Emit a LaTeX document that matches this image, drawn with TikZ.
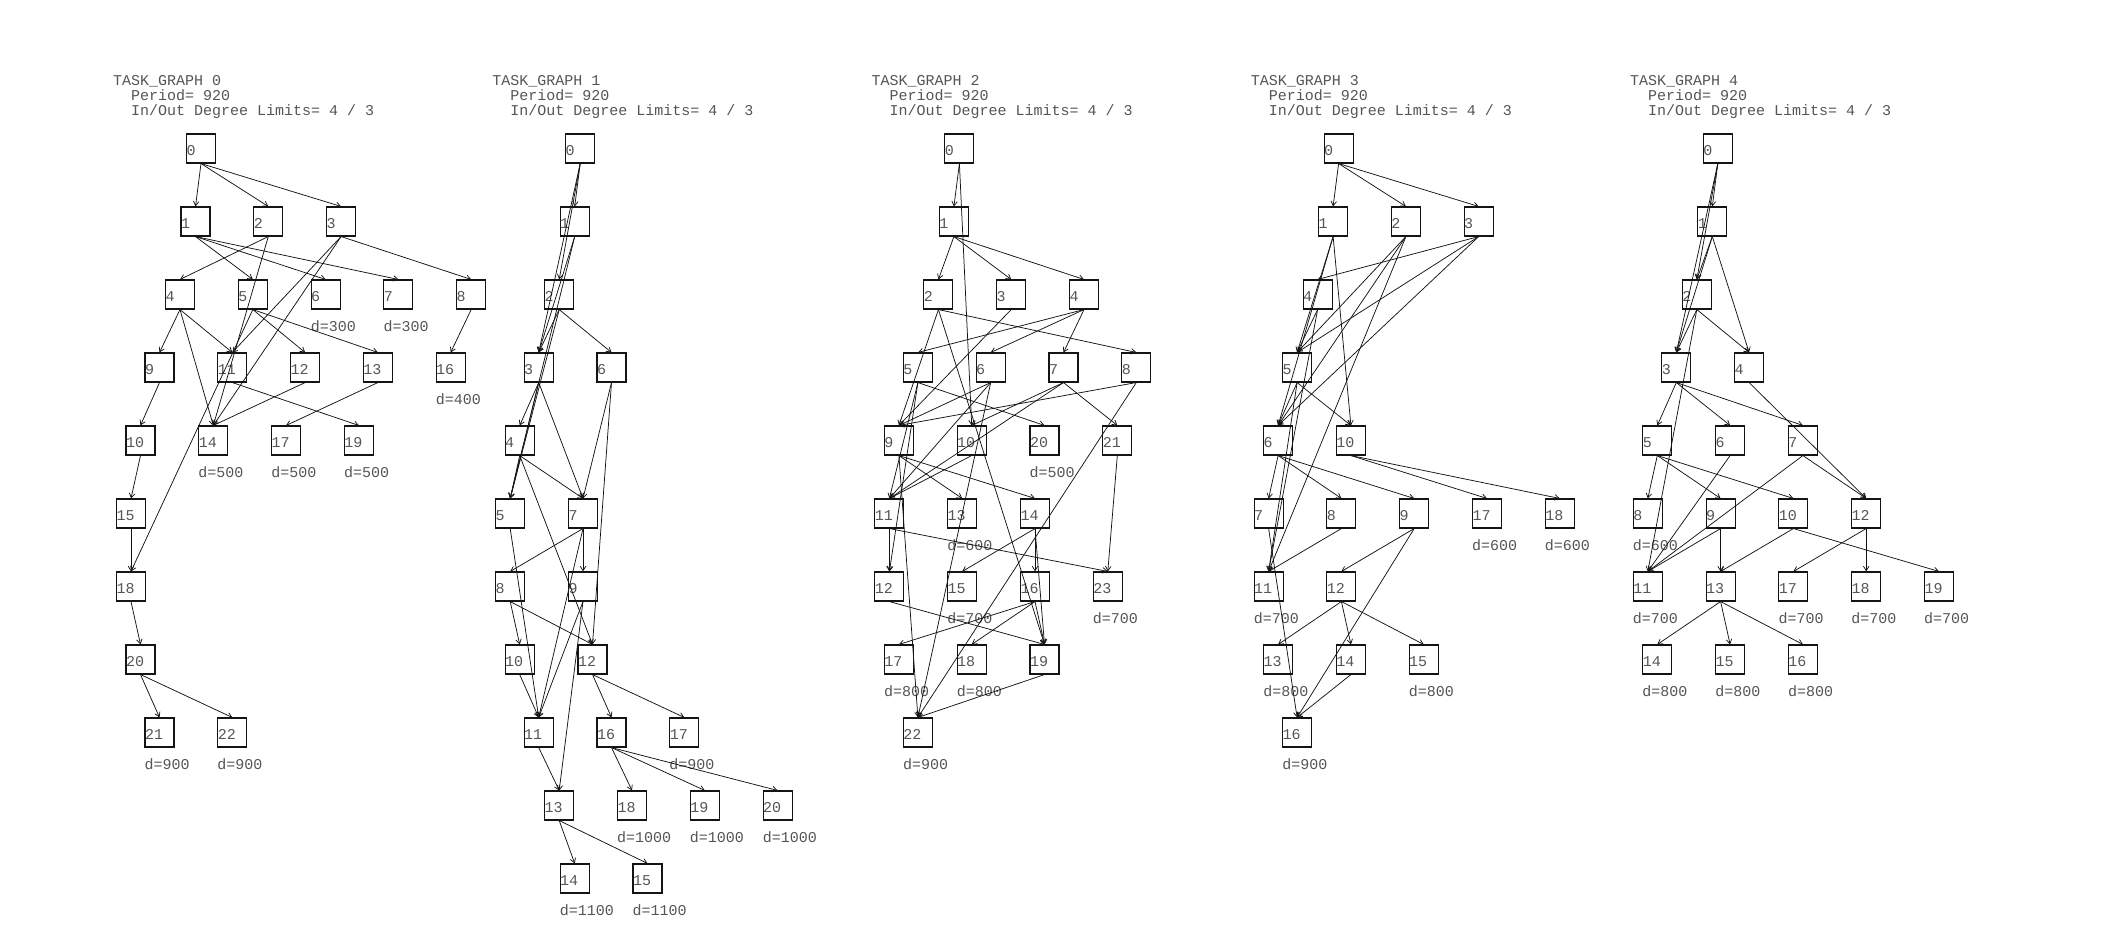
\documentclass[tikz,border=0pt]{standalone}
\usepackage{fontspec}
\newfontfamily\tgffont{Liberation Mono}
\usetikzlibrary{arrows.meta, positioning}
\usepackage{xcolor}
\definecolor{inkgray}{HTML}{555555}
\definecolor{edgeblack}{HTML}{141414}
\tikzset{
  task/.style={rectangle, draw=edgeblack, line width=1.1pt, text=inkgray,
    font=\tgffont\fontsize{15}{15}\selectfont, text width=29pt, align=left,
    inner sep=0pt, minimum height=29pt, text height=14pt, text depth=0pt},
  arrow/.style={-{Straight Barb[length=4.5pt, width=5.5pt]}, line width=0.75pt, edgeblack},
  deadline/.style={anchor=base west, inner sep=0pt, text=inkgray,
    font=\tgffont\fontsize{15}{15}\selectfont},
  header/.style={deadline},
}
\begin{document}
\begin{tikzpicture}[x=1pt, y=-1pt]
\useasboundingbox (0,0) rectangle (2124,939);

\node[header] (g0title) at (113,85.7) {TASK\_GRAPH 0};
\node[header] (g0period) at (131,100.5) {Period= 920};
\node[header] (g0limits) at (131,115.5) {In/Out Degree Limits= 4 / 3};
\node[task] (g0n0) at (201,148.5) {0};
\node[task] (g0n1) at (195.5,221.5) {1};
\node[task] (g0n2) at (268.3,221.5) {2};
\node[task] (g0n3) at (341.1,221.5) {3};
\node[task] (g0n4) at (180,294.5) {4};
\node[task] (g0n5) at (252.8,294.5) {5};
\node[task] (g0n6) at (325.6,294.5) {6};
\node[task] (g0n7) at (398.4,294.5) {7};
\node[task] (g0n8) at (471.2,294.5) {8};
\node[task] (g0n9) at (159.5,367.5) {9};
\node[task] (g0n11) at (232.3,367.5) {11};
\node[task] (g0n12) at (305.1,367.5) {12};
\node[task] (g0n13) at (377.9,367.5) {13};
\node[task] (g0n16) at (450.7,367.5) {16};
\node[task] (g0n10) at (140.5,440.5) {10};
\node[task] (g0n14) at (213.3,440.5) {14};
\node[task] (g0n17) at (286.1,440.5) {17};
\node[task] (g0n19) at (358.9,440.5) {19};
\node[task] (g0n15) at (131,513.5) {15};
\node[task] (g0n18) at (131,586.5) {18};
\node[task] (g0n20) at (140.5,659.5) {20};
\node[task] (g0n21) at (159.5,732.5) {21};
\node[task] (g0n22) at (232.3,732.5) {22};
\node[deadline] (g0d6) at ([yshift=-37pt]g0n6.west) {d=300};
\node[deadline] (g0d7) at ([yshift=-37pt]g0n7.west) {d=300};
\node[deadline] (g0d16) at ([yshift=-37pt]g0n16.west) {d=400};
\node[deadline] (g0d14) at ([yshift=-37pt]g0n14.west) {d=500};
\node[deadline] (g0d17) at ([yshift=-37pt]g0n17.west) {d=500};
\node[deadline] (g0d19) at ([yshift=-37pt]g0n19.west) {d=500};
\node[deadline] (g0d21) at ([yshift=-37pt]g0n21.west) {d=900};
\node[deadline] (g0d22) at ([yshift=-37pt]g0n22.west) {d=900};
\draw[arrow] (g0n0.south) -- (g0n1.north);
\draw[arrow] (g0n0.south) -- (g0n2.north);
\draw[arrow] (g0n0.south) -- (g0n3.north);
\draw[arrow] (g0n1.south) -- (g0n5.north);
\draw[arrow] (g0n1.south) -- (g0n6.north);
\draw[arrow] (g0n1.south) -- (g0n7.north);
\draw[arrow] (g0n2.south) -- (g0n4.north);
\draw[arrow] (g0n2.south) -- (g0n14.north);
\draw[arrow] (g0n3.south) -- (g0n8.north);
\draw[arrow] (g0n3.south) -- (g0n11.north);
\draw[arrow] (g0n3.south) -- (g0n14.north);
\draw[arrow] (g0n4.south) -- (g0n9.north);
\draw[arrow] (g0n4.south) -- (g0n11.north);
\draw[arrow] (g0n4.south) -- (g0n14.north);
\draw[arrow] (g0n5.south) -- (g0n12.north);
\draw[arrow] (g0n5.south) -- (g0n13.north);
\draw[arrow] (g0n5.south) -- (g0n18.north);
\draw[arrow] (g0n8.south) -- (g0n16.north);
\draw[arrow] (g0n9.south) -- (g0n10.north);
\draw[arrow] (g0n10.south) -- (g0n15.north);
\draw[arrow] (g0n11.south) -- (g0n19.north);
\draw[arrow] (g0n12.south) -- (g0n14.north);
\draw[arrow] (g0n13.south) -- (g0n17.north);
\draw[arrow] (g0n15.south) -- (g0n18.north);
\draw[arrow] (g0n18.south) -- (g0n20.north);
\draw[arrow] (g0n20.south) -- (g0n21.north);
\draw[arrow] (g0n20.south) -- (g0n22.north);

\node[header] (g1title) at (492.2,85.7) {TASK\_GRAPH 1};
\node[header] (g1period) at (510.2,100.5) {Period= 920};
\node[header] (g1limits) at (510.2,115.5) {In/Out Degree Limits= 4 / 3};
\node[task] (g1n0) at (580.2,148.5) {0};
\node[task] (g1n1) at (574.7,221.5) {1};
\node[task] (g1n2) at (559.2,294.5) {2};
\node[task] (g1n3) at (538.7,367.5) {3};
\node[task] (g1n6) at (611.5,367.5) {6};
\node[task] (g1n4) at (519.7,440.5) {4};
\node[task] (g1n5) at (510.2,513.5) {5};
\node[task] (g1n7) at (583,513.5) {7};
\node[task] (g1n8) at (510.2,586.5) {8};
\node[task] (g1n9) at (583,586.5) {9};
\node[task] (g1n10) at (519.7,659.5) {10};
\node[task] (g1n12) at (592.5,659.5) {12};
\node[task] (g1n11) at (538.7,732.5) {11};
\node[task] (g1n16) at (611.5,732.5) {16};
\node[task] (g1n17) at (684.3,732.5) {17};
\node[task] (g1n13) at (559.2,805.5) {13};
\node[task] (g1n18) at (632,805.5) {18};
\node[task] (g1n19) at (704.8,805.5) {19};
\node[task] (g1n20) at (777.6,805.5) {20};
\node[task] (g1n14) at (574.7,878.5) {14};
\node[task] (g1n15) at (647.5,878.5) {15};
\node[deadline] (g1d17) at ([yshift=-37pt]g1n17.west) {d=900};
\node[deadline] (g1d18) at ([yshift=-37pt]g1n18.west) {d=1000};
\node[deadline] (g1d19) at ([yshift=-37pt]g1n19.west) {d=1000};
\node[deadline] (g1d20) at ([yshift=-37pt]g1n20.west) {d=1000};
\node[deadline] (g1d14) at ([yshift=-37pt]g1n14.west) {d=1100};
\node[deadline] (g1d15) at ([yshift=-37pt]g1n15.west) {d=1100};
\draw[arrow] (g1n0.south) -- (g1n1.north);
\draw[arrow] (g1n0.south) -- (g1n2.north);
\draw[arrow] (g1n0.south) -- (g1n3.north);
\draw[arrow] (g1n1.south) -- (g1n3.north);
\draw[arrow] (g1n1.south) -- (g1n5.north);
\draw[arrow] (g1n2.south) -- (g1n3.north);
\draw[arrow] (g1n2.south) -- (g1n5.north);
\draw[arrow] (g1n2.south) -- (g1n6.north);
\draw[arrow] (g1n3.south) -- (g1n4.north);
\draw[arrow] (g1n3.south) -- (g1n5.north);
\draw[arrow] (g1n3.south) -- (g1n7.north);
\draw[arrow] (g1n4.south) -- (g1n5.north);
\draw[arrow] (g1n4.south) -- (g1n7.north);
\draw[arrow] (g1n4.south) -- (g1n12.north);
\draw[arrow] (g1n5.south) -- (g1n11.north);
\draw[arrow] (g1n6.south) -- (g1n7.north);
\draw[arrow] (g1n6.south) -- (g1n12.north);
\draw[arrow] (g1n7.south) -- (g1n8.north);
\draw[arrow] (g1n7.south) -- (g1n9.north);
\draw[arrow] (g1n7.south) -- (g1n11.north);
\draw[arrow] (g1n8.south) -- (g1n10.north);
\draw[arrow] (g1n8.south) -- (g1n12.north);
\draw[arrow] (g1n9.south) -- (g1n11.north);
\draw[arrow] (g1n9.south) -- (g1n13.north);
\draw[arrow] (g1n10.south) -- (g1n11.north);
\draw[arrow] (g1n11.south) -- (g1n13.north);
\draw[arrow] (g1n12.south) -- (g1n16.north);
\draw[arrow] (g1n12.south) -- (g1n17.north);
\draw[arrow] (g1n13.south) -- (g1n14.north);
\draw[arrow] (g1n13.south) -- (g1n15.north);
\draw[arrow] (g1n16.south) -- (g1n18.north);
\draw[arrow] (g1n16.south) -- (g1n19.north);
\draw[arrow] (g1n16.south) -- (g1n20.north);

\node[header] (g2title) at (871.4,85.7) {TASK\_GRAPH 2};
\node[header] (g2period) at (889.4,100.5) {Period= 920};
\node[header] (g2limits) at (889.4,115.5) {In/Out Degree Limits= 4 / 3};
\node[task] (g2n0) at (959.4,148.5) {0};
\node[task] (g2n1) at (953.9,221.5) {1};
\node[task] (g2n2) at (938.4,294.5) {2};
\node[task] (g2n3) at (1011.2,294.5) {3};
\node[task] (g2n4) at (1084,294.5) {4};
\node[task] (g2n5) at (917.9,367.5) {5};
\node[task] (g2n6) at (990.7,367.5) {6};
\node[task] (g2n7) at (1063.5,367.5) {7};
\node[task] (g2n8) at (1136.3,367.5) {8};
\node[task] (g2n9) at (898.9,440.5) {9};
\node[task] (g2n10) at (971.7,440.5) {10};
\node[task] (g2n20) at (1044.5,440.5) {20};
\node[task] (g2n21) at (1117.3,440.5) {21};
\node[task] (g2n11) at (889.4,513.5) {11};
\node[task] (g2n13) at (962.2,513.5) {13};
\node[task] (g2n14) at (1035,513.5) {14};
\node[task] (g2n12) at (889.4,586.5) {12};
\node[task] (g2n15) at (962.2,586.5) {15};
\node[task] (g2n16) at (1035,586.5) {16};
\node[task] (g2n23) at (1107.8,586.5) {23};
\node[task] (g2n17) at (898.9,659.5) {17};
\node[task] (g2n18) at (971.7,659.5) {18};
\node[task] (g2n19) at (1044.5,659.5) {19};
\node[task] (g2n22) at (917.9,732.5) {22};
\node[deadline] (g2d20) at ([yshift=-37pt]g2n20.west) {d=500};
\node[deadline] (g2d13) at ([yshift=-37pt]g2n13.west) {d=600};
\node[deadline] (g2d15) at ([yshift=-37pt]g2n15.west) {d=700};
\node[deadline] (g2d23) at ([yshift=-37pt]g2n23.west) {d=700};
\node[deadline] (g2d17) at ([yshift=-37pt]g2n17.west) {d=800};
\node[deadline] (g2d18) at ([yshift=-37pt]g2n18.west) {d=800};
\node[deadline] (g2d22) at ([yshift=-37pt]g2n22.west) {d=900};
\draw[arrow] (g2n0.south) -- (g2n1.north);
\draw[arrow] (g2n0.south) -- (g2n10.north);
\draw[arrow] (g2n1.south) -- (g2n2.north);
\draw[arrow] (g2n1.south) -- (g2n3.north);
\draw[arrow] (g2n1.south) -- (g2n4.north);
\draw[arrow] (g2n2.south) -- (g2n8.north);
\draw[arrow] (g2n2.south) -- (g2n9.north);
\draw[arrow] (g2n2.south) -- (g2n19.north);
\draw[arrow] (g2n3.south) -- (g2n9.north);
\draw[arrow] (g2n4.south) -- (g2n5.north);
\draw[arrow] (g2n4.south) -- (g2n6.north);
\draw[arrow] (g2n4.south) -- (g2n7.north);
\draw[arrow] (g2n5.south) -- (g2n11.north);
\draw[arrow] (g2n5.south) -- (g2n12.north);
\draw[arrow] (g2n5.south) -- (g2n20.north);
\draw[arrow] (g2n6.south) -- (g2n9.north);
\draw[arrow] (g2n6.south) -- (g2n11.north);
\draw[arrow] (g2n6.south) -- (g2n22.north);
\draw[arrow] (g2n7.south) -- (g2n10.north);
\draw[arrow] (g2n7.south) -- (g2n11.north);
\draw[arrow] (g2n7.south) -- (g2n21.north);
\draw[arrow] (g2n8.south) -- (g2n9.north);
\draw[arrow] (g2n8.south) -- (g2n22.north);
\draw[arrow] (g2n9.south) -- (g2n13.north);
\draw[arrow] (g2n9.south) -- (g2n14.north);
\draw[arrow] (g2n9.south) -- (g2n22.north);
\draw[arrow] (g2n10.south) -- (g2n11.north);
\draw[arrow] (g2n11.south) -- (g2n12.north);
\draw[arrow] (g2n11.south) -- (g2n23.north);
\draw[arrow] (g2n12.south) -- (g2n19.north);
\draw[arrow] (g2n14.south) -- (g2n15.north);
\draw[arrow] (g2n14.south) -- (g2n16.north);
\draw[arrow] (g2n14.south) -- (g2n19.north);
\draw[arrow] (g2n16.south) -- (g2n17.north);
\draw[arrow] (g2n16.south) -- (g2n18.north);
\draw[arrow] (g2n16.south) -- (g2n19.north);
\draw[arrow] (g2n19.south) -- (g2n22.north);
\draw[arrow] (g2n21.south) -- (g2n23.north);

\node[header] (g3title) at (1250.6,85.7) {TASK\_GRAPH 3};
\node[header] (g3period) at (1268.6,100.5) {Period= 920};
\node[header] (g3limits) at (1268.6,115.5) {In/Out Degree Limits= 4 / 3};
\node[task] (g3n0) at (1338.6,148.5) {0};
\node[task] (g3n1) at (1333.1,221.5) {1};
\node[task] (g3n2) at (1405.9,221.5) {2};
\node[task] (g3n3) at (1478.7,221.5) {3};
\node[task] (g3n4) at (1317.6,294.5) {4};
\node[task] (g3n5) at (1297.1,367.5) {5};
\node[task] (g3n6) at (1278.1,440.5) {6};
\node[task] (g3n10) at (1350.9,440.5) {10};
\node[task] (g3n7) at (1268.6,513.5) {7};
\node[task] (g3n8) at (1341.4,513.5) {8};
\node[task] (g3n9) at (1414.2,513.5) {9};
\node[task] (g3n17) at (1487,513.5) {17};
\node[task] (g3n18) at (1559.8,513.5) {18};
\node[task] (g3n11) at (1268.6,586.5) {11};
\node[task] (g3n12) at (1341.4,586.5) {12};
\node[task] (g3n13) at (1278.1,659.5) {13};
\node[task] (g3n14) at (1350.9,659.5) {14};
\node[task] (g3n15) at (1423.7,659.5) {15};
\node[task] (g3n16) at (1297.1,732.5) {16};
\node[deadline] (g3d17) at ([yshift=-37pt]g3n17.west) {d=600};
\node[deadline] (g3d18) at ([yshift=-37pt]g3n18.west) {d=600};
\node[deadline] (g3d11) at ([yshift=-37pt]g3n11.west) {d=700};
\node[deadline] (g3d13) at ([yshift=-37pt]g3n13.west) {d=800};
\node[deadline] (g3d15) at ([yshift=-37pt]g3n15.west) {d=800};
\node[deadline] (g3d16) at ([yshift=-37pt]g3n16.west) {d=900};
\draw[arrow] (g3n0.south) -- (g3n1.north);
\draw[arrow] (g3n0.south) -- (g3n2.north);
\draw[arrow] (g3n0.south) -- (g3n3.north);
\draw[arrow] (g3n1.south) -- (g3n5.north);
\draw[arrow] (g3n1.south) -- (g3n6.north);
\draw[arrow] (g3n1.south) -- (g3n10.north);
\draw[arrow] (g3n2.south) -- (g3n5.north);
\draw[arrow] (g3n2.south) -- (g3n6.north);
\draw[arrow] (g3n2.south) -- (g3n11.north);
\draw[arrow] (g3n3.south) -- (g3n4.north);
\draw[arrow] (g3n3.south) -- (g3n5.north);
\draw[arrow] (g3n3.south) -- (g3n6.north);
\draw[arrow] (g3n4.south) -- (g3n5.north);
\draw[arrow] (g3n4.south) -- (g3n11.north);
\draw[arrow] (g3n5.south) -- (g3n6.north);
\draw[arrow] (g3n5.south) -- (g3n10.north);
\draw[arrow] (g3n5.south) -- (g3n11.north);
\draw[arrow] (g3n6.south) -- (g3n7.north);
\draw[arrow] (g3n6.south) -- (g3n8.north);
\draw[arrow] (g3n6.south) -- (g3n9.north);
\draw[arrow] (g3n7.south) -- (g3n16.north);
\draw[arrow] (g3n8.south) -- (g3n11.north);
\draw[arrow] (g3n9.south) -- (g3n12.north);
\draw[arrow] (g3n9.south) -- (g3n16.north);
\draw[arrow] (g3n10.south) -- (g3n17.north);
\draw[arrow] (g3n10.south) -- (g3n18.north);
\draw[arrow] (g3n12.south) -- (g3n13.north);
\draw[arrow] (g3n12.south) -- (g3n14.north);
\draw[arrow] (g3n12.south) -- (g3n15.north);
\draw[arrow] (g3n14.south) -- (g3n16.north);

\node[header] (g4title) at (1629.8,85.7) {TASK\_GRAPH 4};
\node[header] (g4period) at (1647.8,100.5) {Period= 920};
\node[header] (g4limits) at (1647.8,115.5) {In/Out Degree Limits= 4 / 3};
\node[task] (g4n0) at (1717.8,148.5) {0};
\node[task] (g4n1) at (1712.3,221.5) {1};
\node[task] (g4n2) at (1696.8,294.5) {2};
\node[task] (g4n3) at (1676.3,367.5) {3};
\node[task] (g4n4) at (1749.1,367.5) {4};
\node[task] (g4n5) at (1657.3,440.5) {5};
\node[task] (g4n6) at (1730.1,440.5) {6};
\node[task] (g4n7) at (1802.9,440.5) {7};
\node[task] (g4n8) at (1647.8,513.5) {8};
\node[task] (g4n9) at (1720.6,513.5) {9};
\node[task] (g4n10) at (1793.4,513.5) {10};
\node[task] (g4n12) at (1866.2,513.5) {12};
\node[task] (g4n11) at (1647.8,586.5) {11};
\node[task] (g4n13) at (1720.6,586.5) {13};
\node[task] (g4n17) at (1793.4,586.5) {17};
\node[task] (g4n18) at (1866.2,586.5) {18};
\node[task] (g4n19) at (1939,586.5) {19};
\node[task] (g4n14) at (1657.3,659.5) {14};
\node[task] (g4n15) at (1730.1,659.5) {15};
\node[task] (g4n16) at (1802.9,659.5) {16};
\node[deadline] (g4d8) at ([yshift=-37pt]g4n8.west) {d=600};
\node[deadline] (g4d11) at ([yshift=-37pt]g4n11.west) {d=700};
\node[deadline] (g4d17) at ([yshift=-37pt]g4n17.west) {d=700};
\node[deadline] (g4d18) at ([yshift=-37pt]g4n18.west) {d=700};
\node[deadline] (g4d19) at ([yshift=-37pt]g4n19.west) {d=700};
\node[deadline] (g4d14) at ([yshift=-37pt]g4n14.west) {d=800};
\node[deadline] (g4d15) at ([yshift=-37pt]g4n15.west) {d=800};
\node[deadline] (g4d16) at ([yshift=-37pt]g4n16.west) {d=800};
\draw[arrow] (g4n0.south) -- (g4n1.north);
\draw[arrow] (g4n0.south) -- (g4n2.north);
\draw[arrow] (g4n0.south) -- (g4n3.north);
\draw[arrow] (g4n1.south) -- (g4n2.north);
\draw[arrow] (g4n1.south) -- (g4n3.north);
\draw[arrow] (g4n1.south) -- (g4n4.north);
\draw[arrow] (g4n2.south) -- (g4n3.north);
\draw[arrow] (g4n2.south) -- (g4n4.north);
\draw[arrow] (g4n2.south) -- (g4n11.north);
\draw[arrow] (g4n3.south) -- (g4n5.north);
\draw[arrow] (g4n3.south) -- (g4n6.north);
\draw[arrow] (g4n3.south) -- (g4n7.north);
\draw[arrow] (g4n4.south) -- (g4n12.north);
\draw[arrow] (g4n5.south) -- (g4n8.north);
\draw[arrow] (g4n5.south) -- (g4n9.north);
\draw[arrow] (g4n5.south) -- (g4n10.north);
\draw[arrow] (g4n6.south) -- (g4n11.north);
\draw[arrow] (g4n7.south) -- (g4n11.north);
\draw[arrow] (g4n7.south) -- (g4n12.north);
\draw[arrow] (g4n9.south) -- (g4n11.north);
\draw[arrow] (g4n9.south) -- (g4n13.north);
\draw[arrow] (g4n10.south) -- (g4n13.north);
\draw[arrow] (g4n10.south) -- (g4n19.north);
\draw[arrow] (g4n12.south) -- (g4n17.north);
\draw[arrow] (g4n12.south) -- (g4n18.north);
\draw[arrow] (g4n13.south) -- (g4n14.north);
\draw[arrow] (g4n13.south) -- (g4n15.north);
\draw[arrow] (g4n13.south) -- (g4n16.north);
\end{tikzpicture}
\end{document}
